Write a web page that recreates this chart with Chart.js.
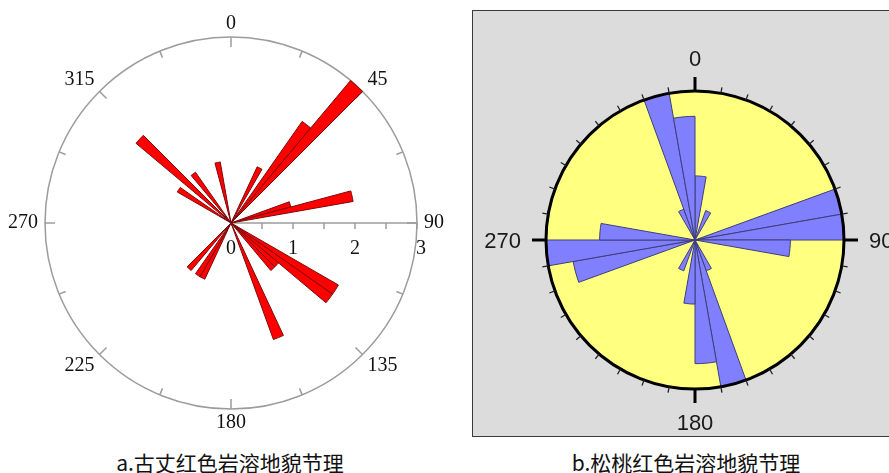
<!DOCTYPE html>
<html>
<head>
<meta charset="utf-8">
<script src="https://cdn.jsdelivr.net/npm/chart.js@4.4.1/dist/chart.umd.min.js"></script>
<style>
  html, body { margin: 0; padding: 0; background: #fff; }
  body { position: relative; width: 889px; height: 473px; overflow: hidden; }
  #leftRose { position: absolute; left: 0; top: 0; }
  #panel { position: absolute; left: 472px; top: 10px; width: 440px; height: 425px;
           background: #dcdcdc; border: 1px solid #3a3a3a; }
  #rightRose { position: absolute; left: 473px; top: 11px; }
  .caption { position: absolute; top: 447px; width: 320px; text-align: center; line-height: 22px;
             font: 21px "Noto Sans CJK SC", sans-serif; color: #111; white-space: nowrap; }
</style>
</head>
<body>
<canvas id="leftRose" width="462" height="446"></canvas>
<div id="panel"></div>
<canvas id="rightRose" width="416" height="425"></canvas>
<div class="caption" style="left:70px">a.古丈红色岩溶地貌节理</div>
<div class="caption" style="left:526px">b.松桃红色岩溶地貌节理</div>

<script>
// ---- Guzhang joints: counts per 5° strike bin, clockwise from north ----
const leftBinStarts = [
    0,   5,  10,  15,  20,  25,  30,  35,  40,  45,  50,  55,
   60,  65,  70,  75,  80,  85,  90,  95, 100, 105, 110, 115,
  120, 125, 130, 135, 140, 145, 150, 155, 160, 165, 170, 175,
  180, 185, 190, 195, 200, 205, 210, 215, 220, 225, 230, 235,
  240, 245, 250, 255, 260, 265, 270, 275, 280, 285, 290, 295,
  300, 305, 310, 315, 320, 325, 330, 335, 340, 345, 350, 355
];
const leftCounts = [
  0, 0, 0, 0, 0, 1, 0, 2, 3, 0, 0, 0,
  0, 0, 1, 2, 0, 0, 0, 0, 0, 0, 0, 0,
  2, 2, 1, 1, 0, 0, 0, 2, 0, 0, 0, 0,
  0, 0, 0, 0, 0, 1, 1, 0, 1, 0, 0, 0,
  0, 0, 0, 0, 0, 0, 0, 0, 0, 0, 0, 0,
  1, 0, 2, 0, 1, 0, 0, 0, 0, 1, 0, 0
];
const leftRadialMax = 3;
const leftAxisTickValues = [0.5, 1, 1.5, 2, 2.5, 3];
const leftAxisLabelValues = [0, 1, 2, 3];
const leftAxisLabels = ['0', '1', '2', '3'];
const leftCompassAngles = [0, 45, 90, 135, 180, 225, 270, 315];
const leftCompassLabels = ['0', '45', '90', '135', '180', '225', '270', '315'];

// ---- Songtao joints: relative frequency per 10° bin, clockwise from north ----
const rightBinStarts = [
    0,  10,  20,  30,  40,  50,  60,  70,  80,
   90, 100, 110, 120, 130, 140, 150, 160, 170,
  180, 190, 200, 210, 220, 230, 240, 250, 260,
  270, 280, 290, 300, 310, 320, 330, 340, 350
];
const rightFreq = [
  0.43, 0, 0.21, 0, 0, 0, 0,    1.0, 1.0,
  0.64, 0, 0,    0, 0, 0, 0.22, 1.0, 0.83,
  0.43, 0, 0.22, 0, 0, 0, 0,    0.83, 1.0,
  0.64, 0, 0,    0, 0, 0, 0.22, 1.0, 0.83
];
const rightRadialMax = 1;
const rightCompassAngles = [0, 90, 180, 270];
const rightCompassLabels = ['0', '90', '180', '270'];

// point at compass bearing (deg, clockwise from north) and pixel radius
function polarPt(scale, deg, r) {
  const a = deg * Math.PI / 180;
  return [scale.xCenter + r * Math.sin(a), scale.yCenter - r * Math.cos(a)];
}
function segment(ctx, p, q) {
  ctx.beginPath(); ctx.moveTo(p[0], p[1]); ctx.lineTo(q[0], q[1]); ctx.stroke();
}
function sgn(v) { return Math.abs(v) < 0.05 ? 0 : Math.sign(v); }
// label whose nearest corner/edge sits at radius r on the given bearing
function compassLabel(ctx, scale, deg, r, text, capH, dy) {
  const a = deg * Math.PI / 180;
  const w = ctx.measureText(text).width;
  const [x, y] = polarPt(scale, deg, r);
  ctx.fillText(text, x + sgn(Math.sin(a)) * w / 2, y - sgn(Math.cos(a)) * capH / 2 + dy);
}

const leftFrame = {
  id: 'leftFrame',
  beforeDatasetsDraw(chart) {
    const s = chart.scales.r, ctx = chart.ctx;
    const R = s.getDistanceFromCenterForValue(leftRadialMax);
    ctx.save();
    ctx.strokeStyle = '#9c9c9c';
    ctx.lineWidth = 1.5;
    ctx.beginPath(); ctx.arc(s.xCenter, s.yCenter, R, 0, Math.PI * 2); ctx.stroke();
    // inward compass ticks every 22.5°
    for (let d = 0; d < 360; d += 22.5) {
      const len = (d % 45 === 0) ? 10 : 7;
      segment(ctx, polarPt(s, d, R), polarPt(s, d, R - len));
    }
    // radial value axis along 90°
    segment(ctx, [s.xCenter, s.yCenter], [s.xCenter + R, s.yCenter]);
    leftAxisTickValues.forEach(v => {
      const x = s.xCenter + s.getDistanceFromCenterForValue(v);
      segment(ctx, [x, s.yCenter], [x, s.yCenter + 6]);
    });
    ctx.fillStyle = '#111';
    ctx.font = '20px "Liberation Serif", "Times New Roman", serif';
    ctx.textAlign = 'center';
    ctx.textBaseline = 'middle';
    leftAxisLabelValues.forEach((v, i) => {
      const x = s.xCenter + s.getDistanceFromCenterForValue(v);
      ctx.fillText(leftAxisLabels[i], x + (i === leftAxisLabels.length - 1 ? 4 : 0), s.yCenter + 26);
    });
    leftCompassAngles.forEach((d, i) => compassLabel(ctx, s, d, R + 7, leftCompassLabels[i], 13, 0));
    ctx.restore();
  }
};

const rightFrame = {
  id: 'rightFrame',
  beforeDatasetsDraw(chart) {
    const s = chart.scales.r, ctx = chart.ctx;
    const R = s.getDistanceFromCenterForValue(rightRadialMax);
    ctx.save();
    ctx.fillStyle = '#ffff80';
    ctx.beginPath(); ctx.arc(s.xCenter, s.yCenter, R, 0, Math.PI * 2); ctx.fill();
    ctx.restore();
  },
  afterDatasetsDraw(chart) {
    const s = chart.scales.r, ctx = chart.ctx;
    const R = s.getDistanceFromCenterForValue(rightRadialMax);
    ctx.save();
    ctx.strokeStyle = '#000';
    ctx.lineWidth = 3;
    ctx.beginPath(); ctx.arc(s.xCenter, s.yCenter, R, 0, Math.PI * 2); ctx.stroke();
    // outward ticks every 10°, long ones on the cardinal bearings
    for (let d = 0; d < 360; d += 10) {
      const major = d % 90 === 0;
      ctx.lineWidth = major ? 3 : 1.3;
      ctx.strokeStyle = major ? '#000' : '#222';
      segment(ctx, polarPt(s, d, R), polarPt(s, d, R + (major ? 14 : 6)));
    }
    ctx.fillStyle = '#1a1a1a';
    ctx.font = '22px "Liberation Sans", Arial, sans-serif';
    ctx.textAlign = 'center';
    ctx.textBaseline = 'middle';
    rightCompassAngles.forEach((d, i) => compassLabel(ctx, s, d, R + 14 + 11, rightCompassLabels[i], 16, 2));
    ctx.restore();
  }
};

function roseOptions(max, padding) {
  return {
    responsive: false,
    animation: false,
    events: [],
    layout: { padding },
    plugins: { legend: { display: false }, tooltip: { enabled: false } },
    scales: {
      r: {
        min: 0, max,
        startAngle: 0,
        ticks: { display: false },
        grid: { display: false },
        angleLines: { display: false },
        pointLabels: { display: false }
      }
    }
  };
}

new Chart(document.getElementById('leftRose'), {
  type: 'polarArea',
  data: {
    labels: leftBinStarts.map(a => a + '°'),
    datasets: [{
      data: leftCounts,
      backgroundColor: '#ff0000',
      borderColor: '#7a0a0a',
      borderWidth: c => (c.raw > 0 ? 1 : 0)
    }]
  },
  options: roseOptions(leftRadialMax, { left: 45, right: 45, top: 37, bottom: 37 }),
  plugins: [leftFrame]
});

new Chart(document.getElementById('rightRose'), {
  type: 'polarArea',
  data: {
    labels: rightBinStarts.map(a => a + '°'),
    datasets: [{
      data: rightFreq,
      backgroundColor: '#8080ff',
      borderColor: '#3e3e7c',
      borderWidth: c => (c.raw > 0 ? 1 : 0)
    }]
  },
  options: roseOptions(rightRadialMax, { left: 73, right: 45, top: 80, bottom: 47 }),
  plugins: [rightFrame]
});
</script>
</body>
</html>
